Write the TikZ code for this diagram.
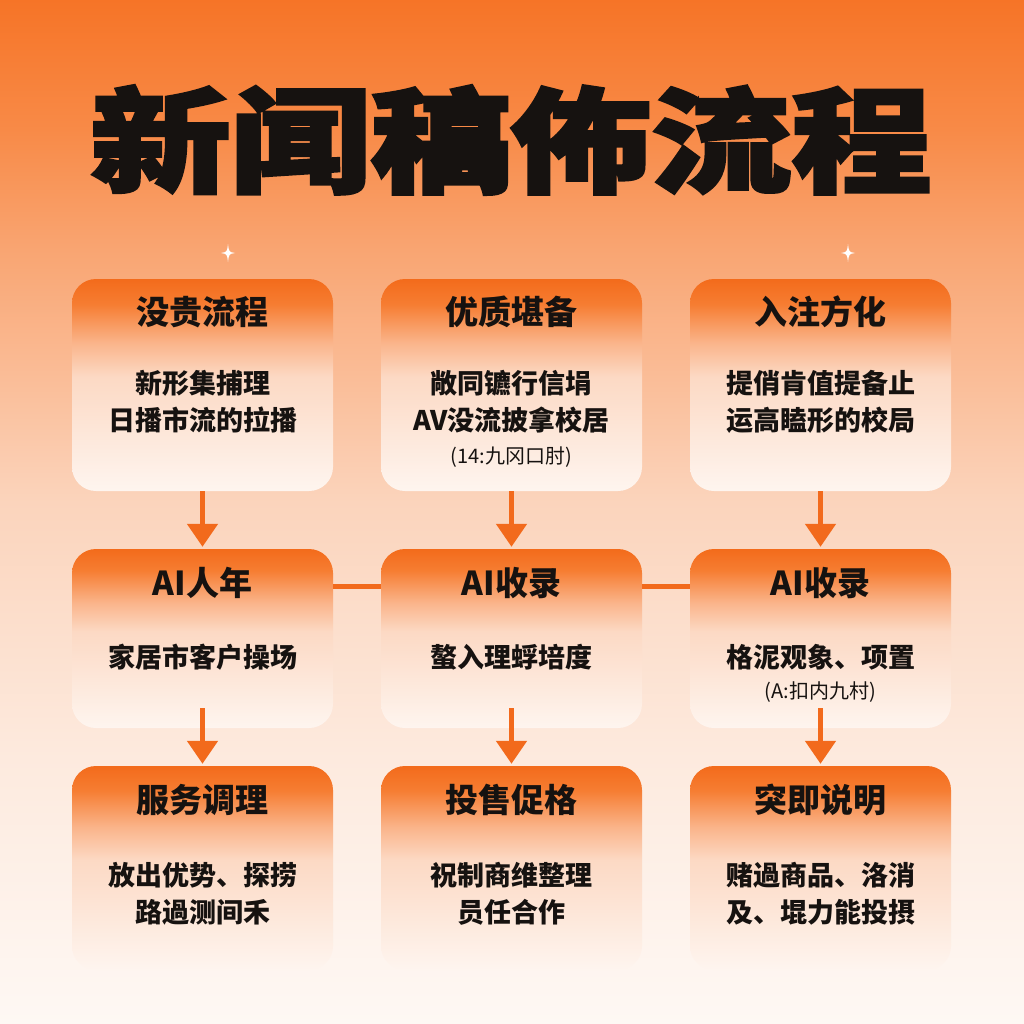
\documentclass[tikz,border=0pt]{standalone}
\usepackage{fontspec}
\usetikzlibrary{arrows.meta}
\newfontfamily\cjk{Noto Sans CJK SC}
\newfontfamily\cjkheavy{Noto Sans CJK SC}[FakeBold=2.5]
\definecolor{arrorange}{HTML}{F26A1C}
\definecolor{txt}{HTML}{161210}
\definecolor{bgA}{HTML}{F67427}
\definecolor{bgB}{HTML}{F88A47}
\definecolor{bgC}{HTML}{F9A572}
\definecolor{bgD}{HTML}{FBD4BC}
\definecolor{bgE}{HTML}{FDEADE}
\definecolor{bgF}{HTML}{FEF8F4}
\definecolor{bxA}{HTML}{F36B1B}
\definecolor{bxB}{HTML}{F67D32}
\definecolor{bxC}{HTML}{FAB48A}
\definecolor{bxD}{HTML}{FCD9C4}
\definecolor{bxE}{HTML}{FEF5EF}
\pgfdeclareverticalshading{bgshade}{100bp}{color(0bp)=(bgF); color(25bp)=(bgF); color(38bp)=(bgE); color(50.5bp)=(bgD); color(62.8bp)=(bgC); color(68.7bp)=(bgB); color(75bp)=(bgA); color(100bp)=(bgA)}
\pgfdeclareverticalshading{boxshade}{100bp}{color(0bp)=(bxE); color(25bp)=(bxE); color(52bp)=(bxD); color(60bp)=(bxC); color(69bp)=(bxB); color(75bp)=(bxA); color(100bp)=(bxA)}
\tikzset{
  box/.style={rectangle, rounded corners=24pt, shading=boxshade, minimum width=261pt, inner sep=0pt},
  boxtitle/.style={font=\cjk\bfseries\fontsize{33}{36}\selectfont, text=txt, inner sep=0pt},
  boxbody/.style={font=\cjk\bfseries\fontsize{27}{37}\selectfont, text=txt, align=center, inner sep=0pt},
  boxnote/.style={font=\cjk\fontsize{20}{24}\selectfont, text=txt, inner sep=0pt},
  arr/.style={draw=arrorange, line width=5pt, -{Triangle[width=30pt,length=23pt]}, fill=arrorange},
  conn/.style={draw=arrorange, line width=5pt},
  spark/.style={fill=white, draw=none}
}
\begin{document}
\begin{tikzpicture}[x=1pt,y=-1pt]
\useasboundingbox (0,0) rectangle (1024,1024);
\shade[shading=bgshade] (0,0) rectangle (1024,1024);

% title
\node[font=\cjkheavy\bfseries\fontsize{114}{114}\selectfont, text=txt, inner sep=0pt] (title) at (511,140) {\scalebox{1.23}[1]{新闻稿佈流程}};

% sparkles
\coordinate (s1) at (228,253);
\coordinate (s2) at (848,253);
\foreach \s in {s1,s2}{
  \fill[spark] ([shift={(0,-9)}]\s) .. controls ([shift={(1,-1)}]\s) .. ([shift={(7,0)}]\s)
     .. controls ([shift={(1,1)}]\s) .. ([shift={(0,9)}]\s)
     .. controls ([shift={(-1,1)}]\s) .. ([shift={(-7,0)}]\s)
     .. controls ([shift={(-1,-1)}]\s) .. cycle;
}

% boxes
\node[box, minimum height=212pt] (b1) at (202.5,385) {};
\node[box, minimum height=212pt] (b2) at (511.5,385) {};
\node[box, minimum height=212pt] (b3) at (820.5,385) {};
\node[box, minimum height=179pt] (b4) at (202.5,638.5) {};
\node[box, minimum height=179pt] (b5) at (511.5,638.5) {};
\node[box, minimum height=179pt] (b6) at (820.5,638.5) {};
\node[box, minimum height=204pt] (b7) at (202.5,868) {};
\node[box, minimum height=204pt] (b8) at (511.5,868) {};
\node[box, minimum height=204pt] (b9) at (820.5,868) {};

% connectors
\draw[conn] ([yshift=52.5pt]b4.east) -- ([yshift=52.5pt]b5.west);
\draw[conn] ([yshift=52.5pt]b5.east) -- ([yshift=52.5pt]b6.west);
\draw[arr] (b1.south) -- ([yshift=2pt]b4.north);
\draw[arr] (b2.south) -- ([yshift=2pt]b5.north);
\draw[arr] (b3.south) -- ([yshift=2pt]b6.north);
\draw[arr] ([yshift=20pt]b4.south) -- ([yshift=2pt]b7.north);
\draw[arr] ([yshift=20pt]b5.south) -- ([yshift=2pt]b8.north);
\draw[arr] ([yshift=20pt]b6.south) -- ([yshift=2pt]b9.north);

% row 1 texts
\node[boxtitle] (t1) at (202.5,312) {没贵流程};
\node[boxbody] (d1) at (202.5,401.5) {新形集捕理\\日播市流的拉播};
\node[boxtitle] (t2) at (511.5,312) {优质堪备};
\node[boxbody] (d2) at (511.5,401.5) {敞同镳行信埍\\AV没流披拿校居};
\node[boxnote] (n2) at (511.5,457) {(14:九冈口肘)};
\node[boxtitle] (t3) at (820.5,312) {入注方化};
\node[boxbody] (d3) at (820.5,401.5) {提俏肯值提备止\\运高瞌形的校局};

% row 2 texts
\node[boxtitle] (t4) at (202.5,583) {AI人年};
\node[boxbody] (d4) at (202.5,657) {家居市客户操场};
\node[boxtitle] (t5) at (511.5,583) {AI收录};
\node[boxbody] (d5) at (511.5,657) {螯入理蜉培度};
\node[boxtitle] (t6) at (820.5,583) {AI收录};
\node[boxbody] (d6) at (820.5,657) {格泥观象、项置};
\node[boxnote] (n6) at (820.5,692) {(A:扣内九村)};

% row 3 texts
\node[boxtitle] (t7) at (202.5,800) {服务调理};
\node[boxbody] (d7) at (202.5,893.5) {放出优势、探捞\\路過测间禾};
\node[boxtitle] (t8) at (511.5,800) {投售促格};
\node[boxbody] (d8) at (511.5,893.5) {祝制商维整理\\员任合作};
\node[boxtitle] (t9) at (820.5,800) {突即说明};
\node[boxbody] (d9) at (820.5,893.5) {赌過商品、洛消\\及、堒力能投摂};
\end{tikzpicture}
\end{document}
